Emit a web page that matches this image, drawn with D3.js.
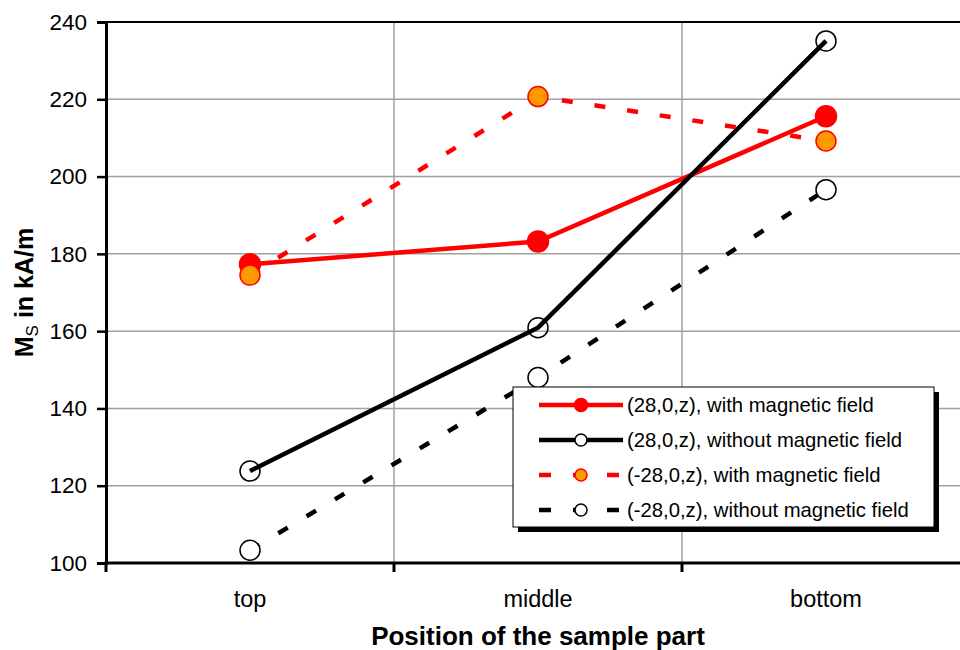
<!DOCTYPE html>
<html>
<head>
<meta charset="utf-8">
<script src="https://cdn.jsdelivr.net/npm/d3@7"></script>
<style>
    body { margin: 0; background: #fff; }
    svg { display: block; font-family: "Liberation Sans", Arial, sans-serif; }
</style>
</head>
<body>
<div id="chart"></div>
<script>

// data
let positions = ["top", "middle", "bottom"];
let yTicks = [100, 120, 140, 160, 180, 200, 220, 240];

let posWithField = [177.3, 183.2, 215.6];
let posWithoutField = [123.8, 160.9, 235.1];
let negWithField = [174.5, 220.7, 209.2];
let negWithoutField = [103.3, 148.0, 196.6];

let seriesNames = [
    "(28,0,z), with magnetic field",
    "(28,0,z), without magnetic field",
    "(-28,0,z), with magnetic field",
    "(-28,0,z), without magnetic field"
];

let series = [
    {name: seriesNames[0], values: posWithField, line: "#ff0000", dash: null, fill: "#ff0000", stroke: "#ff0000", r: 10.5},
    {name: seriesNames[1], values: posWithoutField, line: "#000000", dash: null, fill: "none", stroke: "#000000", r: 10},
    {name: seriesNames[2], values: negWithField, line: "#ff0000", dash: "11,22", fill: "#ff9900", stroke: "#ff0000", r: 10},
    {name: seriesNames[3], values: negWithoutField, line: "#000000", dash: "11,22", fill: "#ffffff", stroke: "#000000", r: 10}
];

let width = 960, height = 650;
let margin = {top: 22, left: 106, bottom: 87};

let svg = d3.select("#chart").append("svg")
    .attr("width", width)
    .attr("height", height);

// scales
let x = d3.scaleBand()
    .domain(positions)
    .range([margin.left, margin.left + 3 * 288])
    .padding(0);

let y = d3.scaleLinear()
    .domain([100, 240])
    .range([height - margin.bottom, margin.top]);

let cx = d => x(d) + x.bandwidth() / 2;

// horizontal grid
svg.append("g")
    .selectAll("line")
    .data(yTicks.filter(t => t > 100 && t < 240))
    .enter().append("line")
    .attr("x1", margin.left).attr("x2", width)
    .attr("y1", d => y(d)).attr("y2", d => y(d))
    .attr("stroke", "#a0a0a0")
    .attr("stroke-width", 1.5);

// vertical grid at category boundaries
svg.append("g")
    .selectAll("line")
    .data(positions.slice(1))
    .enter().append("line")
    .attr("x1", d => x(d)).attr("x2", d => x(d))
    .attr("y1", y(240)).attr("y2", y(100))
    .attr("stroke", "#a0a0a0")
    .attr("stroke-width", 1.5);

// top border
svg.append("line")
    .attr("x1", margin.left).attr("x2", width)
    .attr("y1", y(240)).attr("y2", y(240))
    .attr("stroke", "#000")
    .attr("stroke-width", 2);

// y axis
let yAxis = svg.append("g")
    .attr("transform", `translate(${margin.left},0)`)
    .call(d3.axisLeft(y).tickValues(yTicks).tickSize(9).tickPadding(10));
yAxis.select(".domain").attr("stroke-width", 3);
yAxis.selectAll(".tick line").attr("stroke-width", 2.5);
yAxis.selectAll(".tick text")
    .attr("font-size", "22.5px")
    .attr("fill", "#000");

// x axis
svg.append("line")
    .attr("x1", margin.left - 1.5).attr("x2", width)
    .attr("y1", y(100)).attr("y2", y(100))
    .attr("stroke", "#000")
    .attr("stroke-width", 3);

svg.append("g")
    .selectAll("line")
    .data(positions)
    .enter().append("line")
    .attr("x1", d => x(d)).attr("x2", d => x(d))
    .attr("y1", y(100)).attr("y2", y(100) + 9)
    .attr("stroke", "#000")
    .attr("stroke-width", 3);

svg.append("g")
    .selectAll("text")
    .data(positions)
    .enter().append("text")
    .attr("x", d => cx(d))
    .attr("y", y(100) + 44)
    .attr("text-anchor", "middle")
    .attr("font-size", "23.5px")
    .text(d => d);

// axis titles
svg.append("text")
    .attr("x", cx("middle"))
    .attr("y", 645)
    .attr("text-anchor", "middle")
    .attr("font-size", "26px")
    .attr("font-weight", "bold")
    .text("Position of the sample part");

let yTitle = svg.append("text")
    .attr("transform", `translate(33,${(y(100) + y(240)) / 2}) rotate(-90)`)
    .attr("text-anchor", "middle")
    .attr("font-size", "25px")
    .attr("font-weight", "bold");
yTitle.append("tspan").text("M");
yTitle.append("tspan").attr("font-size", "17px").attr("font-weight", "normal").attr("dy", 5).text("S");
yTitle.append("tspan").attr("dy", -5).text(" in kA/m");

// series lines and markers
let line = d3.line()
    .x((d, i) => cx(positions[i]))
    .y(d => y(d));

series.forEach(s => {
    svg.append("path")
        .datum(s.values)
        .attr("d", line)
        .attr("fill", "none")
        .attr("stroke", s.line)
        .attr("stroke-width", 4.5)
        .attr("stroke-dasharray", s.dash);

    svg.append("g")
        .selectAll("circle")
        .data(s.values)
        .enter().append("circle")
        .attr("cx", (d, i) => cx(positions[i]))
        .attr("cy", d => y(d))
        .attr("r", s.r)
        .attr("fill", s.fill)
        .attr("stroke", s.stroke)
        .attr("stroke-width", 1.5);
});

// legend
let lg = svg.append("g").attr("transform", "translate(513,387)");
lg.append("rect")
    .attr("x", 5).attr("y", 5)
    .attr("width", 421).attr("height", 140)
    .attr("fill", "#000");
lg.append("rect")
    .attr("width", 421).attr("height", 140)
    .attr("fill", "#fff")
    .attr("stroke", "#000")
    .attr("stroke-width", 1);

let legendRows = lg.selectAll(".legend-row")
    .data(series)
    .enter().append("g")
    .attr("class", "legend-row")
    .attr("transform", (d, i) => `translate(0,${18 + i * 35})`);

legendRows.append("line")
    .attr("x1", 26).attr("x2", 110)
    .attr("stroke", d => d.line)
    .attr("stroke-width", 4.5)
    .attr("stroke-dasharray", d => d.dash ? "12,22" : null);

legendRows.append("circle")
    .attr("cx", 68)
    .attr("r", (d, i) => i === 0 ? 6.5 : 6)
    .attr("fill", d => d.fill === "none" ? "#fff" : d.fill)
    .attr("stroke", d => d.stroke)
    .attr("stroke-width", 1.5);

legendRows.append("text")
    .attr("x", 114)
    .attr("y", 7)
    .attr("font-size", "20.3px")
    .text(d => d.name);

</script>
</body>
</html>
